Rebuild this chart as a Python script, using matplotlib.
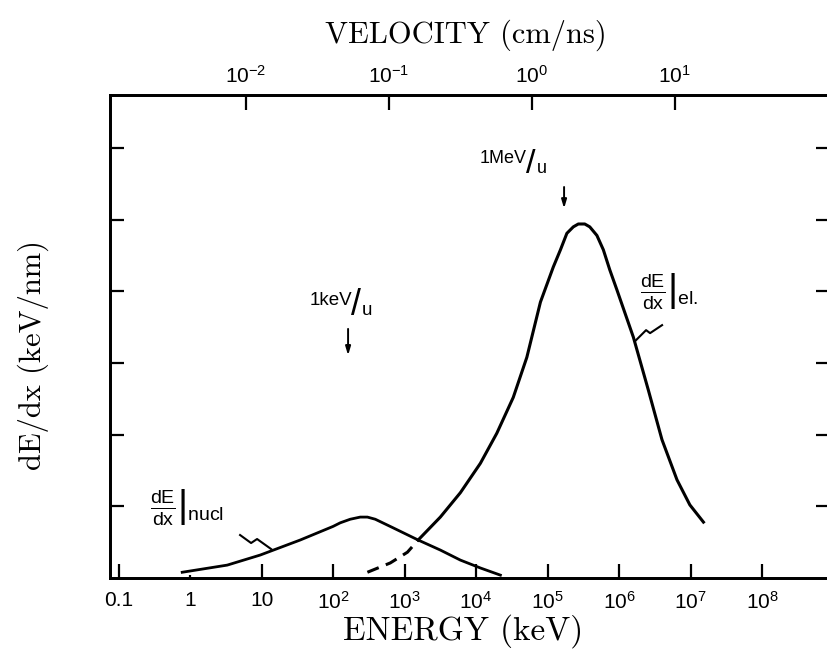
import matplotlib.pyplot as plt
import numpy as np
from matplotlib.ticker import NullLocator

plt.rcParams['font.family'] = 'Liberation Sans'
plt.rcParams['mathtext.fontset'] = 'custom'
plt.rcParams['mathtext.rm'] = 'Liberation Sans'
plt.rcParams['mathtext.it'] = 'Liberation Sans:italic'

# curves: log10(E / keV) and dE/dx in y-tick units
el_dash_logE = [2.48, 2.80, 3.04, 3.19]
el_dash_val = [0.08, 0.21, 0.36, 0.53]
el_logE = [3.19, 3.50, 3.78, 4.06, 4.29, 4.52, 4.71, 4.90, 5.08, 5.18, 5.27,
           5.36, 5.43, 5.52, 5.59, 5.69, 5.78, 5.87, 5.97, 6.20, 6.41, 6.60,
           6.81, 6.99, 7.18]
el_val = [0.53, 0.85, 1.19, 1.60, 2.02, 2.52, 3.08, 3.85, 4.34, 4.58, 4.81,
          4.90, 4.94, 4.94, 4.90, 4.78, 4.58, 4.30, 4.02, 3.36, 2.62, 1.93,
          1.37, 1.02, 0.78]
nuc_logE = [-0.11, 0.52, 0.98, 1.54, 2.00, 2.10, 2.24, 2.38, 2.48, 2.59, 2.84,
            3.19, 3.50, 3.78, 4.06, 4.34]
nuc_val = [0.08, 0.18, 0.32, 0.53, 0.72, 0.77, 0.82, 0.85, 0.85, 0.82, 0.70,
           0.53, 0.39, 0.25, 0.14, 0.04]

energy_ticks = [0.1, 1, 10, 1e2, 1e3, 1e4, 1e5, 1e6, 1e7, 1e8]
energy_labels = ['0.1', '1', '10', '$10^{2}$', '$10^{3}$', '$10^{4}$',
                 '$10^{5}$', '$10^{6}$', '$10^{7}$', '$10^{8}$']
vel_ticks = [1e-2, 1e-1, 1, 10]
vel_labels = ['$10^{-2}$', '$10^{-1}$', '$10^{0}$', '$10^{1}$']
E_at_1cm_ns = 6.0e4  # keV, where v = 1 cm/ns on the top scale
y_ticks = [1, 2, 3, 4, 5, 6]


def px(x, y):
    # reference-pixel position -> data coords (for the hand-drawn decorations)
    return 10 ** ((x - 190) / 71.5), (578 - y) / 71.7


fig = plt.figure(figsize=(8.27, 6.65), dpi=100)
ax = fig.add_axes([110 / 827, 87 / 665, 720 / 827, 483 / 665])
ax.set_xscale('log')
ax.set_xlim(10 ** -1.12, 10 ** 8.95)
ax.set_ylim(0, 6.74)

ax.plot(np.power(10, el_logE), el_val, color='black', lw=2.2)
ax.plot(np.power(10, el_dash_logE), el_dash_val, color='black', lw=2.2,
        ls=(0, (4, 2.5)))
ax.plot(np.power(10, nuc_logE), nuc_val, color='black', lw=2.0)

for s in ax.spines.values():
    s.set_linewidth(2)

ax.set_xticks(energy_ticks)
ax.set_xticklabels(energy_labels)
ax.xaxis.set_minor_locator(NullLocator())
ax.tick_params(axis='x', direction='in', length=10, width=1.6, pad=9,
               labelsize=15, top=False)
ticks = ax.xaxis.get_major_ticks()
ticks[0].tick1line.set_visible(False)
ticks[1].tick1line.set_markersize(2)

ax.set_yticks(y_ticks)
ax.tick_params(axis='y', direction='in', length=10, width=1.6, left=True,
               right=True, labelleft=False)

ax2 = ax.twiny()
ax2.set_xscale('log')
ax2.set_xlim(ax.get_xlim())
ax2.set_xticks([E_at_1cm_ns * v ** 2 for v in vel_ticks])
ax2.set_xticklabels(vel_labels)
ax2.xaxis.set_minor_locator(NullLocator())
ax2.tick_params(axis='x', direction='in', length=11, width=1.6, pad=6,
                labelsize=15)
for s in ax2.spines.values():
    s.set_linewidth(2)

serif = 'cmr10'
fig.text(466 / 827, 1 - 35 / 665, 'VELOCITY (cm/ns)', family=serif,
         fontsize=22, ha='center', va='center')
fig.text(463 / 827, 1 - 631 / 665, 'ENERGY (keV)', family=serif,
         fontsize=24, ha='center', va='center')
fig.text(33 / 827, 1 - 355 / 665, 'dE/dx (keV/nm)', family=serif,
         fontsize=22, ha='center', va='center', rotation=90)


def per_u(xy, head, size):
    ax.annotate(head, xy, ha='right', va='baseline', fontsize=size)
    ax.annotate('/', xy, xytext=(-1, -7), textcoords='offset points',
                ha='left', va='baseline', fontsize=size * 1.9)
    ax.annotate('u', xy, xytext=(7, -7), textcoords='offset points',
                ha='left', va='baseline', fontsize=size)


per_u(px(352, 305), '1keV', 13.5)
per_u(px(527, 163), '1MeV', 13)

arrow = dict(arrowstyle='-|>,head_length=0.5,head_width=0.15', lw=1.4,
             color='black')
ax.annotate('', xy=px(348, 358), xytext=px(348, 326), arrowprops=arrow)
ax.annotate('', xy=px(564, 211), xytext=px(564, 184), arrowprops=arrow)

ax.text(*px(150, 508), r'$\left.\frac{\mathrm{dE}}{\mathrm{dx}}\right|_{\mathrm{nucl}}$',
        fontsize=20, ha='left', va='center')
ax.text(*px(640, 292), r'$\left.\frac{\mathrm{dE}}{\mathrm{dx}}\right|_{\mathrm{el.}}$',
        fontsize=20, ha='left', va='center')

sq1 = [px(240, 535), px(251, 543), px(257, 539), px(271, 549)]
sq2 = [px(662, 325), px(650, 333), px(646, 330), px(635, 341)]
for sq in (sq1, sq2):
    ax.plot([p[0] for p in sq], [p[1] for p in sq], color='black', lw=1.5)

fig.savefig('out.png', dpi=100)
